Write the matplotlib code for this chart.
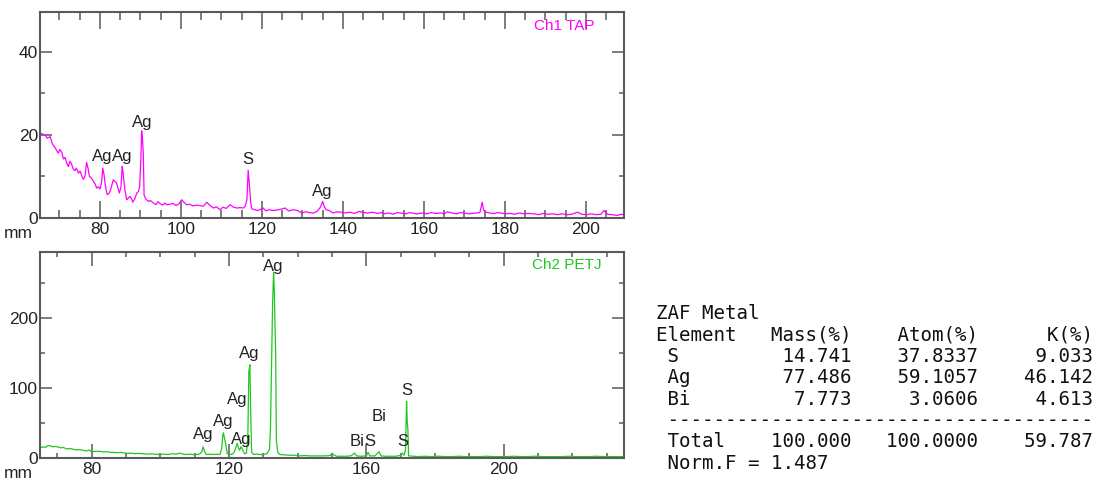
import matplotlib
matplotlib.use("Agg")
import matplotlib.pyplot as plt
from matplotlib.ticker import MultipleLocator

plt.rcParams['font.family'] = ['Liberation Sans Narrow', 'Liberation Sans', 'DejaVu Sans']

# Ch1 TAP spectrum (counts vs mm)
ch1_x = [65.2, 65.8, 66.5, 67.0, 67.7, 68.2, 68.5, 69.0, 69.7, 70.1,
         70.6, 71.0, 71.4, 71.8, 72.2, 72.6, 73.0, 73.4, 73.8, 74.2,
         74.7, 75.1, 75.5, 75.9, 76.3, 76.7, 77.1, 77.4, 77.9, 78.4,
         78.8, 79.2, 79.6, 80.0, 80.4, 80.7, 81.0, 81.2, 81.5, 81.8,
         82.2, 82.5, 82.9, 83.3, 83.7, 84.1, 84.5, 84.8, 85.2, 85.5,
         85.7, 85.9, 86.2, 86.6, 87.0, 87.4, 87.8, 88.1, 88.6, 89.1,
         89.5, 89.8, 90.1, 90.3, 90.5, 90.7, 90.9, 91.2, 91.5, 92.0,
         92.5, 93.2, 93.8, 94.3, 94.8, 95.5, 96.0, 96.5, 97.2, 98.1,
         98.8, 99.5, 100.2, 100.7, 101.4, 102.2, 103.0, 103.8, 104.7, 105.5,
         106.4, 107.2, 108.0, 108.8, 109.6, 110.4, 111.2, 112.1, 113.0, 113.8,
         114.6, 115.4, 115.9, 116.3, 116.6, 116.9, 117.2, 117.5, 118.2, 119.0,
         119.7, 120.3, 121.0, 121.8, 122.8, 123.6, 124.6, 125.7, 126.6, 127.8,
         128.8, 129.8, 130.8, 131.7, 132.7, 133.6, 134.3, 134.7, 135.0, 135.3,
         135.8, 136.6, 137.6, 138.5, 139.5, 140.5, 141.7, 142.8, 144.0, 145.0,
         146.2, 147.3, 148.5, 149.5, 150.2, 151.3, 152.4, 153.4, 154.3, 155.5,
         156.6, 157.5, 158.4, 159.6, 160.7, 161.8, 163.0, 164.2, 165.0, 165.8,
         167.0, 168.0, 169.0, 169.9, 171.0, 172.0, 173.0, 173.8, 174.1, 174.4,
         174.7, 175.3, 176.2, 177.3, 178.2, 179.0, 180.2, 181.3, 182.4, 183.5,
         184.6, 185.8, 187.2, 188.3, 189.5, 190.6, 191.8, 193.0, 194.2, 195.4,
         196.5, 197.9, 199.0, 200.2, 201.4, 202.6, 203.7, 204.5, 205.3, 206.5,
         207.7, 208.6, 209.4]
ch1_y = [20.5, 20.2, 20.0, 19.2, 19.6, 18.0, 17.5, 16.8, 15.6, 16.5,
         15.8, 14.2, 14.6, 13.2, 12.4, 13.7, 13.0, 11.8, 11.4, 12.0,
         10.8, 11.3, 10.2, 9.3, 10.0, 13.4, 11.8, 10.0, 9.6, 8.8,
         8.2, 7.2, 7.5, 7.0, 8.5, 12.0, 10.5, 8.8, 7.0, 5.6,
         5.9, 6.4, 7.8, 9.2, 8.8, 8.4, 7.0, 6.0, 7.5, 12.4,
         11.0, 9.2, 6.5, 4.4, 4.8, 5.2, 4.6, 3.8, 4.6, 6.0,
         6.4, 7.5, 14.0, 21.0, 19.0, 15.7, 5.5, 4.8, 4.4, 4.0,
         4.2, 3.6, 3.2, 3.9, 3.5, 3.1, 3.6, 3.2, 3.3, 3.5,
         3.0, 3.4, 4.4, 3.8, 3.2, 3.3, 2.9, 3.1, 3.0, 2.8,
         3.8, 3.0, 2.4, 2.7, 2.0, 2.6, 2.3, 3.2, 2.6, 2.4,
         2.5, 2.4, 2.9, 4.5, 11.5, 8.0, 4.0, 2.2, 2.0, 1.8,
         2.1, 2.4, 1.7, 2.0, 1.8, 1.9, 2.1, 2.4, 1.7, 2.0,
         1.8, 1.2, 1.5, 1.3, 1.2, 1.6, 2.4, 3.2, 4.0, 3.0,
         2.0, 1.8, 1.2, 1.5, 1.4, 1.2, 1.4, 1.1, 1.6, 1.3,
         1.2, 1.4, 1.1, 1.3, 1.0, 1.2, 0.9, 1.3, 1.2, 1.0,
         1.3, 1.1, 1.0, 1.2, 1.0, 1.3, 1.1, 1.2, 1.0, 1.5,
         1.2, 1.0, 1.3, 1.2, 1.0, 1.1, 1.2, 1.3, 2.5, 3.8,
         2.0, 1.4, 1.2, 1.1, 1.3, 1.2, 1.0, 1.1, 0.9, 1.2,
         1.0, 1.1, 1.0, 0.8, 1.1, 0.9, 1.0, 0.8, 1.0, 0.8,
         0.9, 1.4, 0.9, 0.8, 1.0, 0.8, 0.9, 1.8, 0.9, 0.8,
         0.6, 0.9, 0.8]

# Ch2 PETJ spectrum
ch2_x = [65.0, 65.8, 66.5, 67.2, 67.9, 68.6, 69.4, 70.3, 71.0, 71.8,
         72.8, 73.8, 74.7, 75.6, 76.5, 77.6, 78.5, 79.2, 80.0, 81.0,
         82.5, 83.5, 84.5, 85.5, 86.4, 87.5, 88.5, 89.7, 90.5, 91.5,
         92.5, 93.8, 95.0, 96.2, 97.5, 98.8, 99.9, 101.0, 102.2, 103.5,
         104.6, 105.7, 106.6, 107.8, 108.8, 109.6, 110.5, 111.5, 112.1, 112.5,
         112.9, 113.4, 114.5, 115.5, 116.5, 117.4, 117.9, 118.2, 118.4, 118.7,
         119.1, 119.5, 120.2, 121.0, 121.5, 122.0, 122.4, 122.8, 123.1, 123.5,
         123.8, 124.2, 124.6, 125.1, 125.5, 125.8, 126.1, 126.3, 126.6, 127.2,
         128.0, 129.0, 130.0, 131.0, 131.8, 132.1, 132.5, 132.7, 133.0, 133.2,
         133.4, 133.6, 133.8, 134.2, 134.8, 136.0, 137.5, 139.0, 140.6, 142.0,
         143.5, 145.0, 146.5, 148.0, 149.5, 150.0, 150.4, 151.3, 152.5, 154.0,
         155.5, 156.6, 157.1, 158.5, 160.0, 160.5, 161.0, 162.5, 163.7, 164.3,
         165.5, 167.0, 168.5, 169.8, 170.5, 171.0, 171.4, 171.7, 171.9, 172.1,
         172.3, 173.5, 175.0, 177.0, 179.0, 181.0, 183.0, 185.0, 187.0, 189.0,
         191.0, 193.0, 195.0, 197.0, 199.0, 201.0, 203.0, 205.0, 207.0, 209.0,
         211.0, 213.0, 215.0, 217.0, 219.0, 221.0, 223.0, 225.0, 227.0, 229.0,
         231.0, 233.0, 235.0]
ch2_y = [14, 16, 15, 17.5, 17.6, 16, 16.5, 15.7, 14.5, 15,
         12.9, 13.5, 12.4, 11.5, 12, 11, 10, 11.5, 9, 9.5,
         9.5, 8.5, 9, 8, 8, 7.5, 8, 7.1, 6.5, 7,
         6.2, 6.5, 6, 5.5, 6, 5.2, 5.0, 5.5, 5, 6,
         5.5, 7, 5.5, 5, 5.5, 4.8, 5, 5.5, 9, 16,
         9, 5, 5.5, 5, 5.2, 5, 14, 32, 36, 28,
         19, 6, 5, 5.5, 8, 15, 21, 14, 11, 16,
         14, 9, 6, 7, 30, 124, 133, 74, 8, 5,
         5.5, 5, 4.8, 6, 12, 45, 160, 219, 265, 240,
         190, 150, 26, 8, 5, 4.5, 4, 4, 3, 3.5,
         3, 3, 3, 3, 3.5, 7, 5, 2.5, 2.5, 2.5,
         3, 7, 3, 2.5, 3, 8, 3, 3, 9, 3,
         2.5, 2.5, 2.5, 3.5, 7, 4, 12, 81, 52, 40,
         3, 2.5, 2, 2.5, 2, 2.5, 2, 2, 2.5, 2,
         2, 2, 2.5, 2, 2, 2, 2.5, 2, 2, 2.5,
         2, 2, 2, 2, 2.5, 2, 2, 2, 2.5, 2,
         2, 2, 2]

# peak labels
ch1_peak_names = ["Ag", "Ag", "Ag", "S", "Ag"]
ch1_peak_x = [80.5, 85.4, 90.4, 116.6, 134.8]
ch1_peak_y = [14.7, 14.7, 23.1, 14.0, 6.3]

ch2_peak_names = ["Ag", "Ag", "Ag", "Ag", "Ag", "Ag", "Bi", "S", "Bi", "S", "S"]
ch2_peak_x = [112.4, 118.2, 123.5, 122.3, 125.8, 132.8, 157.2, 161.0, 163.6, 170.6, 171.8]
ch2_peak_y = [32.9, 51.4, 27.0, 84.0, 148.6, 273.0, 22.9, 22.9, 58.6, 22.9, 97.0]

# quantitative result table
elements = ["S", "Ag", "Bi"]
mass_pct = [14.741, 77.486, 7.773]
atom_pct = [37.8337, 59.1057, 3.0606]
k_pct = [9.033, 46.142, 4.613]
total_mass, total_atom, total_k = 100.000, 100.0000, 59.787
norm_f = 1.487

SPINE = "#5a5a5a"
W, H = 1100, 480

fig = plt.figure(figsize=(11, 4.8), dpi=100)
ax1 = fig.add_axes([40 / W, 1 - 218 / H, 584 / W, 206 / H])
ax2 = fig.add_axes([40 / W, 1 - 458 / H, 584 / W, 206 / H])


def style(ax, xmaj, xmin, ymaj, ymin, xlen):
    ax.xaxis.set_major_locator(MultipleLocator(xmaj))
    ax.xaxis.set_minor_locator(MultipleLocator(xmin))
    ax.yaxis.set_major_locator(MultipleLocator(ymaj))
    ax.yaxis.set_minor_locator(MultipleLocator(ymin))
    ax.tick_params(axis='both', which='both', direction='in', top=True, right=True,
                   color=SPINE, width=1.1, labelsize=12.5, labelcolor="#222222")
    ax.tick_params(axis='x', which='major', length=xlen[0], pad=3)
    ax.tick_params(axis='x', which='minor', length=xlen[1])
    ax.tick_params(axis='y', which='major', length=8.6, pad=1.5)
    ax.tick_params(axis='y', which='minor', length=3.6)
    for s in ax.spines.values():
        s.set_color(SPINE)
        s.set_linewidth(1.5)
    ax.text(-0.038, -0.075, "mm", transform=ax.transAxes, ha='center', va='center',
            fontsize=12.5, color="#222222")


ax1.plot(ch1_x, ch1_y, color="#ff00ff", lw=0.9)
ax1.set_xlim(65.2, 209.4)
ax1.set_ylim(0, 49.6)
style(ax1, 20, 5, 20, 10, (12.2, 5.8))
for n, x, y in zip(ch1_peak_names, ch1_peak_x, ch1_peak_y):
    ax1.text(x, y, n, ha='center', va='center', fontsize=12, color="#222222")
ax1.text(0.897, 0.932, "Ch1 TAP", transform=ax1.transAxes, ha='center', va='center',
         fontsize=11, color="#ff00ff")

ax2.plot(ch2_x, ch2_y, color="#1ec81e", lw=0.9)
ax2.set_xlim(65, 235)
ax2.set_ylim(0, 294)
style(ax2, 40, 10, 100, 50, (10, 3.6))
for n, x, y in zip(ch2_peak_names, ch2_peak_x, ch2_peak_y):
    ax2.text(x, y, n, ha='center', va='center', fontsize=12, color="#222222")
ax2.text(0.902, 0.937, "Ch2 PETJ", transform=ax2.transAxes, ha='center', va='center',
         fontsize=11, color="#1ec81e")

# table text
lines = ["ZAF Metal",
         f"{'Element':<10}{'Mass(%)':>7}{'Atom(%)':>11}{'K(%)':>10}"]
for el, m, a, k in zip(elements, mass_pct, atom_pct, k_pct):
    lines.append(f" {el:<9}{m:>7.3f}{a:>11.4f}{k:>10.3f}")
lines.append(" " + "-" * 37)
lines.append(f" {'Total':<9}{total_mass:>7.3f}{total_atom:>11.4f}{total_k:>10.3f}")
lines.append(f" Norm.F = {norm_f:.3f}")

y0, dy = 313.5, 21.4
for i, t in enumerate(lines):
    fig.text(656 / W, 1 - (y0 + i * dy) / H, t, family="DejaVu Sans Mono",
             fontsize=13.75, ha='left', va='center', color="#111111")

fig.savefig("out.png", dpi=100)
